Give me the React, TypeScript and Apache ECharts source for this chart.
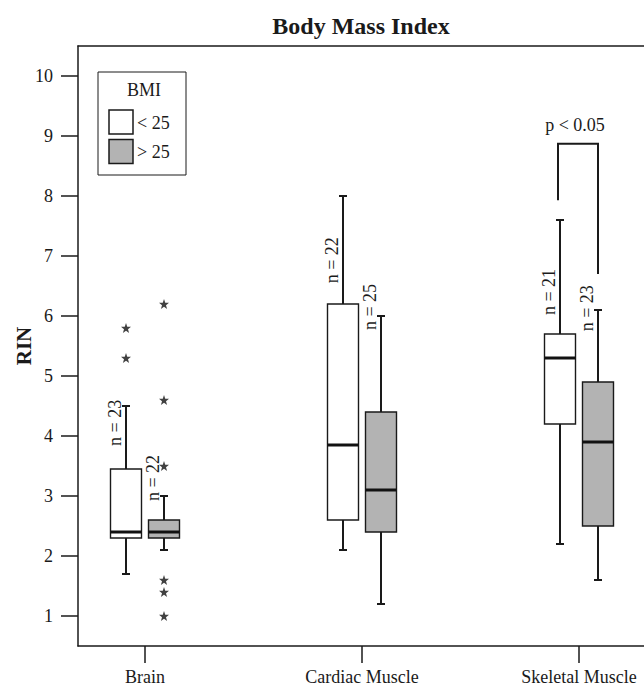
import React, { useEffect, useRef } from 'react';
import * as echarts from 'echarts';

const categories = ['Brain', 'Cardiac Muscle', 'Skeletal Muscle'];
const groupNames = ['< 25', '> 25'];
const groupFills = ['#ffffff', '#b3b3b3'];
const yTicks = [1, 2, 3, 4, 5, 6, 7, 8, 9, 10];
// [lower whisker, Q1, median, Q3, upper whisker]
const lowBmiStats = [
  [1.7, 2.3, 2.4, 3.45, 4.5],
  [2.1, 2.6, 3.85, 6.2, 8.0],
  [2.2, 4.2, 5.3, 5.7, 7.6],
];
const highBmiStats = [
  [2.1, 2.3, 2.4, 2.6, 3.0],
  [1.2, 2.4, 3.1, 4.4, 6.0],
  [1.6, 2.5, 3.9, 4.9, 6.1],
];
const lowBmiN = [23, 22, 21];
const highBmiN = [22, 25, 23];
const lowBmiNLabelY = [4.22, 6.93, 6.4];
const highBmiNLabelY = [3.3, 6.15, 6.13];
// [category index, value]
const lowBmiOutliers = [[0, 5.8], [0, 5.3]];
const highBmiOutliers = [[0, 6.2], [0, 4.6], [0, 3.5], [0, 1.6], [0, 1.4], [0, 1.0]];
const sigCategory = 2;
const sigText = 'p < 0.05';
const sigTop = [8.87];
const sigEnds = [7.93, 6.7];
const sigTextY = [9.18];

const FONT = '"Liberation Serif", "Times New Roman", serif';
const BOX_OFFSET = 19;
const BOX_HALF = 15.5;
const CAP_HALF = 4;
const STROKE = '#1a1a1a';

function starPath(): string {
  const pts: string[] = [];
  for (let i = 0; i < 10; i++) {
    const r = i % 2 === 0 ? 10 : 4;
    const a = -Math.PI / 2 + (i * Math.PI) / 5;
    pts.push(`${(10 + r * Math.cos(a)).toFixed(3)} ${(10 + r * Math.sin(a)).toFixed(3)}`);
  }
  return 'path://M' + pts.join(' L') + ' Z';
}

export default function App() {
  const ref = useRef<HTMLDivElement>(null);
  useEffect(() => {
    if (!ref.current) return;
    const chart = echarts.init(ref.current, undefined, { renderer: 'svg' });

    const boxData: number[][] = [];
    categories.forEach((_, i) => {
      boxData.push([i + 1, ...lowBmiStats[i], 0]);
      boxData.push([i + 1, ...highBmiStats[i], 1]);
    });
    const nData: number[][] = [];
    categories.forEach((_, i) => {
      nData.push([i + 1, lowBmiNLabelY[i], lowBmiN[i], 0]);
      nData.push([i + 1, highBmiNLabelY[i], highBmiN[i], 1]);
    });
    const star = starPath();

    const option: any = {
      animation: false,
      grid: { left: 78, top: 46, right: 0, bottom: 41, containLabel: false, outerBoundsMode: 'none' },
      xAxis: [
        {
          type: 'value',
          position: 'bottom',
          min: 1 - 67 / 217,
          max: 1 + 499 / 217,
          axisLine: { show: true, onZero: false, lineStyle: { color: STROKE, width: 1.5 } },
          axisTick: { show: true, customValues: [1, 2, 3], length: 17, lineStyle: { color: STROKE, width: 1.5 } },
          axisLabel: {
            show: true,
            customValues: [1, 2, 3],
            formatter: (v: number) => categories[Math.round(v) - 1] ?? '',
            fontFamily: FONT,
            fontSize: 18,
            color: '#1a1a1a',
            margin: 22,
          },
          splitLine: { show: false },
        },
        {
          type: 'value',
          position: 'top',
          min: 1 - 67 / 217,
          max: 1 + 499 / 217,
          axisLine: { show: true, onZero: false, lineStyle: { color: STROKE, width: 1.5 } },
          axisTick: { show: false },
          axisLabel: { show: false },
          splitLine: { show: false },
        },
      ],
      yAxis: {
        type: 'value',
        min: 0.5,
        max: 10.5,
        name: 'RIN',
        nameLocation: 'middle',
        nameGap: 44,
        nameRotate: 90,
        nameMoveOverlap: false,
        nameTextStyle: { fontFamily: FONT, fontSize: 21, fontWeight: 'bold', color: '#1a1a1a' },
        axisLine: { show: true, onZero: false, lineStyle: { color: STROKE, width: 1.5 } },
        axisTick: { show: true, customValues: yTicks, length: 17, lineStyle: { color: STROKE, width: 1.5 } },
        axisLabel: { show: true, customValues: yTicks, fontFamily: FONT, fontSize: 18, color: '#1a1a1a', margin: 25 },
        splitLine: { show: false },
      },
      series: [
        {
          type: 'custom',
          name: 'boxes',
          data: boxData,
          encode: { x: 0, y: [1, 2, 3, 4, 5] },
          renderItem: (params: any, api: any) => {
            const x = api.value(0);
            const g = api.value(6);
            const px = api.coord([x, api.value(3)])[0] + (g === 0 ? -BOX_OFFSET : BOX_OFFSET);
            const y = (v: number) => api.coord([x, v])[1];
            const lo = y(api.value(1));
            const q1 = y(api.value(2));
            const med = y(api.value(3));
            const q3 = y(api.value(4));
            const hi = y(api.value(5));
            const ls = { stroke: STROKE, lineWidth: 2 };
            return {
              type: 'group',
              children: [
                { type: 'line', shape: { x1: px, y1: hi, x2: px, y2: q3 }, style: ls },
                { type: 'line', shape: { x1: px - CAP_HALF, y1: hi, x2: px + CAP_HALF, y2: hi }, style: ls },
                { type: 'line', shape: { x1: px, y1: q1, x2: px, y2: lo }, style: ls },
                { type: 'line', shape: { x1: px - CAP_HALF, y1: lo, x2: px + CAP_HALF, y2: lo }, style: ls },
                {
                  type: 'rect',
                  shape: { x: px - BOX_HALF, y: q3, width: BOX_HALF * 2, height: q1 - q3 },
                  style: { fill: groupFills[g], stroke: STROKE, lineWidth: 1.4 },
                },
                {
                  type: 'line',
                  shape: { x1: px - BOX_HALF, y1: med, x2: px + BOX_HALF, y2: med },
                  style: { stroke: '#111', lineWidth: 3 },
                },
              ],
            };
          },
        },
        {
          type: 'scatter',
          name: 'low outliers',
          data: lowBmiOutliers.map(([c, v]) => [c + 1, v]),
          symbol: star,
          symbolSize: 10,
          symbolOffset: [-BOX_OFFSET, 0],
          itemStyle: { color: '#111' },
        },
        {
          type: 'scatter',
          name: 'high outliers',
          data: highBmiOutliers.map(([c, v]) => [c + 1, v]),
          symbol: star,
          symbolSize: 10,
          symbolOffset: [BOX_OFFSET, 0],
          itemStyle: { color: '#111' },
        },
        {
          type: 'custom',
          name: 'n labels',
          data: nData,
          encode: { x: 0, y: 1 },
          renderItem: (params: any, api: any) => {
            const x = api.value(0);
            const g = api.value(3);
            const pt = api.coord([x, api.value(1)]);
            const px = pt[0] + (g === 0 ? -BOX_OFFSET : BOX_OFFSET) - 11.5;
            return {
              type: 'text',
              x: px,
              y: pt[1],
              rotation: Math.PI / 2,
              style: {
                text: 'n = ' + api.value(2),
                fontFamily: FONT,
                fontSize: 18,
                fill: '#1a1a1a',
                align: 'center',
                verticalAlign: 'middle',
              },
            };
          },
        },
        {
          type: 'custom',
          name: 'significance',
          data: [[sigCategory + 1, sigTop[0], sigEnds[0], sigEnds[1], sigTextY[0]]],
          encode: { x: 0, y: [1, 2, 3, 4] },
          renderItem: (params: any, api: any) => {
            const x = api.value(0);
            const cx = api.coord([x, api.value(1)])[0];
            const top = api.coord([x, api.value(1)])[1];
            const l = api.coord([x, api.value(2)])[1];
            const r = api.coord([x, api.value(3)])[1];
            const ty = api.coord([x, api.value(4)])[1];
            const xl = cx - BOX_OFFSET - 2;
            const xr = cx + BOX_OFFSET;
            return {
              type: 'group',
              children: [
                {
                  type: 'polyline',
                  shape: { points: [[xl, l], [xl, top], [xr, top], [xr, r]] },
                  style: { stroke: STROKE, lineWidth: 2, fill: 'none' },
                },
                {
                  type: 'text',
                  x: cx - 4,
                  y: ty,
                  style: {
                    text: sigText,
                    fontFamily: FONT,
                    fontSize: 18,
                    fill: '#1a1a1a',
                    align: 'center',
                    verticalAlign: 'middle',
                  },
                },
              ],
            };
          },
        },
      ],
      graphic: [
        {
          type: 'text',
          x: 361,
          y: 26,
          style: {
            text: 'Body Mass Index',
            fontFamily: FONT,
            fontSize: 24,
            fontWeight: 'bold',
            fill: '#1a1a1a',
            align: 'center',
            verticalAlign: 'middle',
          },
        },
        {
          type: 'rect',
          shape: { x: 98, y: 72, width: 88, height: 103 },
          style: { fill: '#fff', stroke: STROKE, lineWidth: 1 },
        },
        {
          type: 'text',
          x: 144,
          y: 90,
          style: { text: 'BMI', fontFamily: FONT, fontSize: 18, fill: '#1a1a1a', align: 'center', verticalAlign: 'middle' },
        },
        {
          type: 'rect',
          shape: { x: 109, y: 110, width: 24, height: 24 },
          style: { fill: groupFills[0], stroke: STROKE, lineWidth: 1.5 },
        },
        {
          type: 'rect',
          shape: { x: 109, y: 139.5, width: 24, height: 24 },
          style: { fill: groupFills[1], stroke: STROKE, lineWidth: 1.5 },
        },
        {
          type: 'text',
          x: 137,
          y: 123,
          style: { text: groupNames[0], fontFamily: FONT, fontSize: 18, fill: '#1a1a1a', align: 'left', verticalAlign: 'middle' },
        },
        {
          type: 'text',
          x: 137,
          y: 152,
          style: { text: groupNames[1], fontFamily: FONT, fontSize: 18, fill: '#1a1a1a', align: 'left', verticalAlign: 'middle' },
        },
      ],
    };
    chart.setOption(option);
    return () => chart.dispose();
  }, []);
  return (
    <div
      ref={ref}
      style={{ position: 'fixed', left: 0, top: 0, width: 644, height: 687, background: '#fff' }}
    />
  );
}
